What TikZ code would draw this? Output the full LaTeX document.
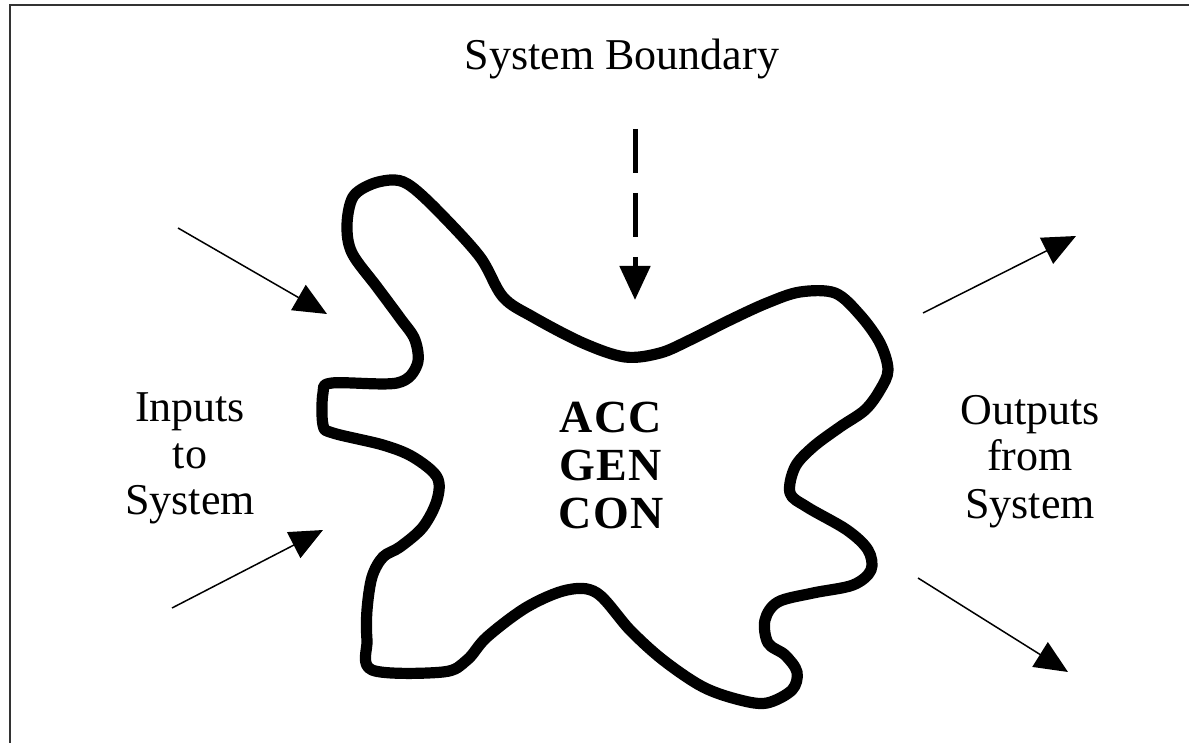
\documentclass[tikz,border=0pt]{standalone}
\usepackage{fontspec}
\setmainfont{Liberation Serif}
\usetikzlibrary{arrows.meta}
\begin{document}
\begin{tikzpicture}[x=0.5pt,y=-0.5pt,
  lbl/.style={font=\fontsize{22}{26}\selectfont, anchor=base, inner sep=0pt},
  core/.style={font=\fontsize{23}{27}\selectfont\bfseries\addfontfeature{LetterSpace=3}, anchor=base, inner sep=0pt},
  flow/.style={line width=0.75pt, -{Triangle[length=16.5pt,width=14.5pt]}},
  bnd/.style={line width=2.5pt, dash pattern=on 22pt off 10pt, -{Triangle[length=17pt,width=15pt]}},
  blob/.style={line width=5.6pt, line join=round},
  frame/.style={line width=1.1pt, black!80}]
\useasboundingbox (0,0) rectangle (1189,743);
% frame
\coordinate (fa) at (10,743);
\coordinate (fb) at (10,5);
\coordinate (fc) at (1189,5);
\draw[frame] (fa) -- (fb) -- (fc);
% system blob
\draw[blob] plot[smooth cycle, tension=0.55] coordinates {
 (347,225) (353,197) (372,184) (395,180) (412,187) (440,213) (480,257)
 (503,297) (533,317) (583,343) (625,357) (660,353) (690,340) (730,320)
 (767,303) (800,292) (835,293) (860,315) (880,343) (888,370) (880,390)
 (865,410) (840,427) (813,447) (795,467) (790,493) (807,507) (847,530)
 (868,550) (871,570) (853,585) (813,593) (778,602) (765,620) (768,643)
 (785,655) (797,672) (792,690) (767,703) (740,700) (703,687) (663,660)
 (630,630) (597,593) (567,590) (527,607) (487,637) (467,660) (443,672)
 (372,670) (367,640) (367,610) (372,577) (383,557) (400,547) (423,527)
 (437,500) (437,477) (413,457) (383,445) (333,433) (323,425) (323,393)
 (332,383) (397,383) (417,365) (415,340) (400,318) (377,287) (352,253)};
% texts
\node[lbl] (title) at (622,70) {System Boundary};
\node[lbl] (in1) at (190,422) {Inputs};
\node[lbl] (in2) at (190,468) {to};
\node[lbl] (in3) at (190,514) {System};
\node[lbl] (out1) at (1030,424) {Outputs};
\node[lbl] (out2) at (1030,470) {from};
\node[lbl] (out3) at (1030,518) {System};
\node[core] (acc) at (611,432) {ACC};
\node[core] (gen) at (611,480) {GEN};
\node[core] (con) at (611,528) {CON};
% arrows
\coordinate (ia1) at (178,228); \coordinate (ib1) at (327,314);
\coordinate (ia2) at (172,608); \coordinate (ib2) at (323,530);
\coordinate (oa1) at (923,313); \coordinate (ob1) at (1076,236);
\coordinate (oa2) at (918,578); \coordinate (ob2) at (1068,672);
\coordinate (sa) at (635,129); \coordinate (sb) at (635,300);
\draw[flow] (ia1) -- (ib1);
\draw[flow] (ia2) -- (ib2);
\draw[flow] (oa1) -- (ob1);
\draw[flow] (oa2) -- (ob2);
\draw[bnd] (sa) -- (sb);
\end{tikzpicture}
\end{document}
